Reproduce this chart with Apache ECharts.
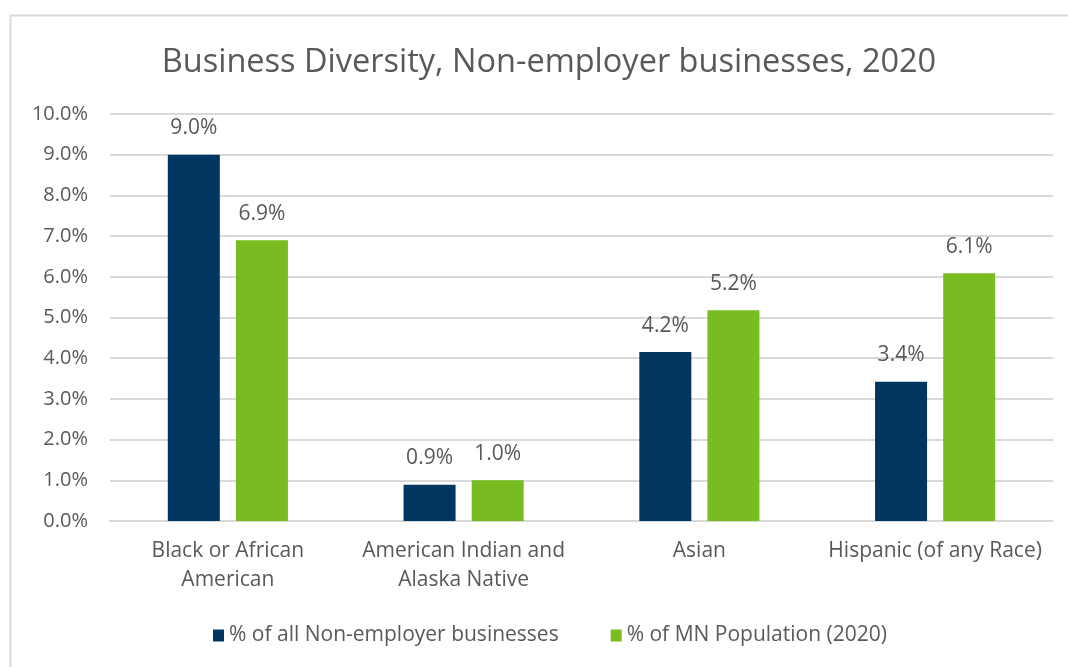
<!DOCTYPE html>
<html>
<head>
<meta charset="utf-8">
<script src="https://cdn.jsdelivr.net/npm/echarts@6/dist/echarts.min.js"></script>
<style>
html,body{margin:0;padding:0;background:#fff;}
#main{width:1068px;height:667px;}
</style>
</head>
<body>
<div id="main"></div>
<script>
const categories = ['Black or African\nAmerican', 'American Indian and\nAlaska Native', 'Asian', 'Hispanic (of any Race)'];
const seriesNames = ['% of all Non-employer businesses', '% of MN Population (2020)'];
const nonEmployerShare = [9.0, 0.89, 4.15, 3.42];
const mnPopulationShare = [6.9, 1.0, 5.18, 6.09];
const yTicks = [0, 1, 2, 3, 4, 5, 6, 7, 8, 9, 10];

const textColor = '#595959';
const fontFamily = '"Open Sans", "Noto Sans", sans-serif';

const chart = echarts.init(document.getElementById('main'), null, {renderer: 'canvas'});
const labelCfg = {
  show: true,
  position: 'top',
  distance: 16,
  color: textColor,
  fontSize: 21,
  fontFamily: fontFamily,
  formatter: p => p.value.toFixed(1) + '%'
};
chart.setOption({
  animation: false,
  backgroundColor: '#fff',
  graphic: [{
    type: 'rect',
    shape: {x: 10.5, y: 15.5, width: 1070, height: 670},
    style: {fill: 'none', stroke: '#d9d9d9', lineWidth: 2},
    silent: true
  }],
  title: {
    text: 'Business Diversity, Non-employer businesses, 2020',
    left: 544,
    textAlign: 'center',
    top: 41,
    textStyle: {color: textColor, fontSize: 32.5, fontWeight: 'normal', fontFamily: fontFamily}
  },
  legend: {
    data: seriesNames,
    bottom: 16,
    left: 208,
    itemWidth: 11,
    itemHeight: 12,
    itemGap: 52,
    icon: 'rect',
    textStyle: {color: textColor, fontSize: 21, fontFamily: fontFamily}
  },
  grid: {left: 110, right: 15, top: 114, bottom: 146, containLabel: false},
  xAxis: {
    type: 'category',
    data: categories,
    axisLine: {show: true, lineStyle: {color: '#d9d9d9', width: 2}},
    axisTick: {show: false},
    axisLabel: {color: textColor, fontSize: 21, fontFamily: fontFamily, margin: 16, lineHeight: 29, interval: 0}
  },
  yAxis: {
    type: 'value',
    min: 0,
    max: 10,
    interval: 1,
    axisLine: {show: false},
    axisTick: {show: false},
    splitLine: {lineStyle: {color: '#d9d9d9', width: 2}},
    axisLabel: {color: textColor, fontSize: 20, fontFamily: fontFamily, margin: 22,
      formatter: v => yTicks.includes(v) ? v.toFixed(1) + '%' : ''}
  },
  series: [
    {name: seriesNames[0], type: 'bar', data: nonEmployerShare, barWidth: 52, barGap: '31%',
      itemStyle: {color: '#003660'}, label: labelCfg},
    {name: seriesNames[1], type: 'bar', data: mnPopulationShare, barWidth: 52,
      itemStyle: {color: '#78bc21'}, label: labelCfg}
  ]
});
</script>
</body>
</html>
